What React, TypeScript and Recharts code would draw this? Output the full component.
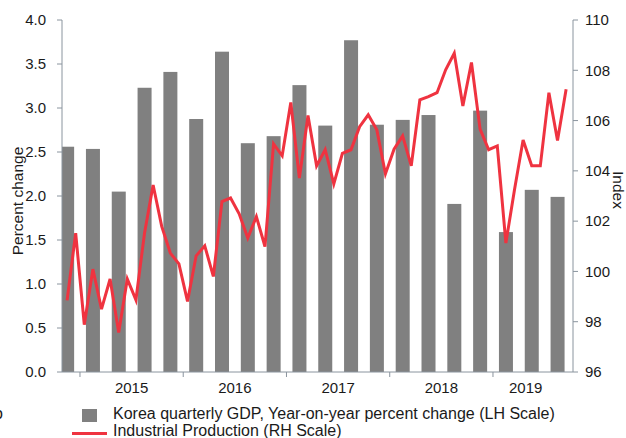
import React from 'react';
import { ComposedChart, Bar, Line, XAxis, YAxis } from 'recharts';

// months counted from Jan 2015 = 0; industrial production starts Nov 2014
const ipStartMonth = -2;
const ipValues = [
  98.85, 101.52,
  97.88, 100.09, 98.5, 99.7, 97.57, 99.7, 98.87, 101.52, 103.44, 101.79, 100.73, 100.3,
  98.81, 100.62, 101.02, 99.8, 102.78, 102.92, 102.29, 101.33, 102.18, 100.99, 105.07, 104.6,
  106.72, 103.71, 106.2, 104.2, 104.84, 103.48, 104.7, 104.84, 105.76, 106.23, 105.63, 103.88,
  104.86, 105.39, 104.2, 106.82, 106.95, 107.11, 108.02, 108.68, 106.58, 108.31, 105.66, 104.84,
  104.99, 101.13, 103.25, 105.23, 104.2, 104.2, 107.11, 105.21, 107.25,
];

// quarterly GDP, 2014Q4 .. 2019Q3 (plotted at the middle month of each quarter)
const gdpQuarters = [
  '2014Q4', '2015Q1', '2015Q2', '2015Q3', '2015Q4', '2016Q1', '2016Q2', '2016Q3', '2016Q4', '2017Q1',
  '2017Q2', '2017Q3', '2017Q4', '2018Q1', '2018Q2', '2018Q3', '2018Q4', '2019Q1', '2019Q2', '2019Q3',
];
const gdpValues = [
  2.56, 2.535, 2.05, 3.23, 3.41, 2.875, 3.64, 2.6, 2.68, 3.26,
  2.8, 3.77, 2.81, 2.865, 2.92, 1.91, 2.97, 1.59, 2.07, 1.99,
];

const yearTicks = [0, 12, 24, 36, 48];
const yearLabels = ['2015', '2016', '2017', '2018', '2019'];
const yearLabelPos = [6, 18, 30, 42, 51.8];
const pctTicks = [0, 0.5, 1, 1.5, 2, 2.5, 3, 3.5, 4];
const indexTicks = [96, 98, 100, 102, 104, 106, 108, 110];

const data = ipValues.map((ip, i) => ({
  x: ipStartMonth + i + 0.5,
  ip,
  gdp: i % 3 === 0 ? gdpValues[i / 3] : null,
  quarter: i % 3 === 0 ? gdpQuarters[i / 3] : null,
}));

const AXIS = '#8a949e';
const TEXT = '#1a1a1a';
const RED = '#ef3340';
const FONT = '"Liberation Sans", Arial, sans-serif';
const BAR_W = 14;

const YearTick = (props: any) => {
  const { x, y, payload } = props;
  const v = payload.value;
  if (yearTicks.includes(v)) {
    return <line x1={x} x2={x} y1={y - 5} y2={y} stroke={AXIS} strokeWidth={1} />;
  }
  const idx = yearLabelPos.indexOf(v);
  if (idx < 0) return null;
  return (
    <text x={x} y={y + 16} textAnchor="middle" fill={TEXT} fontSize={15} fontFamily={FONT}>
      {yearLabels[idx]}
    </text>
  );
};

// bars are wider than one month slot, so centre a fixed-width rect on the slot
const GdpBar = (props: any) => {
  const { x, y, width, height, fill } = props;
  if (!height || height <= 0) return null;
  return <rect x={x + width / 2 - BAR_W / 2} y={y} width={BAR_W} height={height} fill={fill} />;
};

const AxisTitle = (props: any) => {
  const { px, py, rot, text } = props;
  return (
    <text
      x={px}
      y={py}
      transform={`rotate(${rot} ${px} ${py})`}
      textAnchor="middle"
      dominantBaseline="central"
      fill={TEXT}
      fontSize={15.5}
      fontFamily={FONT}
    >
      {text}
    </text>
  );
};

export default function App() {
  return (
    <div style={{ position: 'absolute', left: 0, top: 0, width: 626, height: 438, background: '#fff', fontFamily: FONT, overflow: 'hidden' }}>
      <ComposedChart width={626} height={438} data={data} margin={{ top: 20, right: 0, bottom: 36, left: 0 }}>
        <XAxis
          dataKey="x"
          type="number"
          domain={[-2.09, 57.3]}
          allowDataOverflow
          ticks={[0, 6, 12, 18, 24, 30, 36, 42, 48, 51.8]}
          interval={0}
          tick={<YearTick />}
          tickLine={false}
          tickSize={5}
          tickMargin={0}
          height={30}
          stroke={AXIS}
        />
        <YAxis
          yAxisId="left"
          domain={[0, 4]}
          ticks={pctTicks}
          tickFormatter={(v: number) => v.toFixed(1)}
          width={62}
          tickSize={5}
          tickMargin={11}
          stroke={AXIS}
          tick={{ fill: TEXT, fontSize: 15, fontFamily: FONT }}
          label={<AxisTitle px={17.5} py={201} rot={-90} text="Percent change" />}
        />
        <YAxis
          yAxisId="right"
          orientation="right"
          domain={[96, 110]}
          ticks={indexTicks}
          width={53}
          tickSize={5}
          tickMargin={7}
          stroke={AXIS}
          tick={{ fill: TEXT, fontSize: 15, fontFamily: FONT }}
          label={<AxisTitle px={618} py={190} rot={90} text="Index" />}
        />
        <Bar yAxisId="left" dataKey="gdp" fill="#808080" shape={<GdpBar />} isAnimationActive={false} />
        <Line
          yAxisId="right"
          dataKey="ip"
          type="linear"
          stroke={RED}
          strokeWidth={3}
          dot={false}
          activeDot={false}
          isAnimationActive={false}
        />
      </ComposedChart>
      <div style={{ position: 'absolute', left: -6, top: 405, fontSize: 16, color: TEXT }}>o</div>
      <div style={{ position: 'absolute', left: 82, top: 409, width: 15, height: 13, background: '#808080' }} />
      <div style={{ position: 'absolute', left: 113, top: 405, fontSize: 16, color: TEXT, whiteSpace: 'nowrap' }}>
        Korea quarterly GDP, Year-on-year percent change (LH Scale)
      </div>
      <div style={{ position: 'absolute', left: 72, top: 432, width: 35, height: 3, background: RED }} />
      <div style={{ position: 'absolute', left: 113, top: 422, fontSize: 16, color: TEXT, whiteSpace: 'nowrap' }}>
        Industrial Production (RH Scale)
      </div>
    </div>
  );
}
